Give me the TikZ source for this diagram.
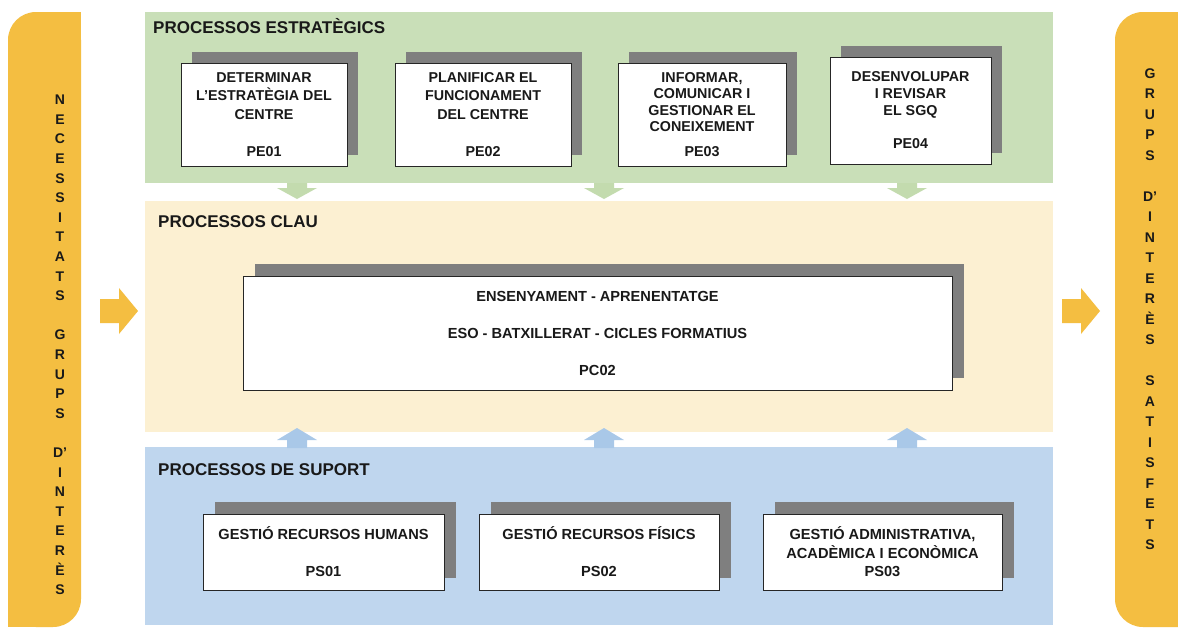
\documentclass[tikz,border=0pt]{standalone}
\usepackage{fontspec}
\setmainfont{Liberation Sans}
\usetikzlibrary{shadows}

\definecolor{panelorange}{HTML}{F4BE41}
\definecolor{stratgreen}{HTML}{C9DFB8}
\definecolor{keybeige}{HTML}{FCF0D2}
\definecolor{supblue}{HTML}{BFD6EE}
\definecolor{greenarrow}{HTML}{C3DBAE}
\definecolor{bluearrow}{HTML}{A9C8E8}
\definecolor{shadowgray}{HTML}{7F7F7F}

\tikzset{
  bandtitle/.style={anchor=west, inner sep=0pt, text=black!90, font=\bfseries\fontsize{17}{20}\selectfont},
  procbox/.style={draw=black!85, line width=0.8pt, fill=white, align=center, inner sep=0pt, text=black!90},
  pebox/.style={procbox, minimum height=103pt, font=\bfseries\fontsize{14.3}{18.5}\selectfont,
    drop shadow={shadow xshift=11pt, shadow yshift=11pt, fill=shadowgray, opacity=1}},
  psbox/.style={procbox, minimum width=241pt, minimum height=76pt, font=\bfseries\fontsize{14.6}{18.5}\selectfont,
    drop shadow={shadow xshift=12pt, shadow yshift=12pt, fill=shadowgray, opacity=1}},
  vletters/.style={align=center, inner sep=0pt, text=black!90}
}

\begin{document}
\begin{tikzpicture}[x=1pt, y=-1pt]
    \clip (0,0) rectangle (1178,630);
    \fill[white] (0,0) rectangle (1178,630);

    \fill[panelorange, rounded corners=28pt] (8,12) rectangle (81,627);
    \fill[panelorange] (45,12) rectangle (81,50);
    \fill[panelorange] (8,590) rectangle (45,627);
    \fill[panelorange, rounded corners=28pt] (1115,12) rectangle (1230,627);

    \fill[stratgreen] (145,12) rectangle (1053,183);
    \fill[keybeige] (145,201) rectangle (1053,432);
    \fill[supblue] (145,447) rectangle (1053,625);

    \foreach \x in {297,604,907}{
        \fill[greenarrow] (\x-10,183) -- (\x+10,183) -- (\x+10,188) -- (\x+20,188) -- (\x,199)
            -- (\x-20,188) -- (\x-10,188) -- cycle;
        \fill[bluearrow] (\x,428) -- (\x+20,440) -- (\x+10,440) -- (\x+10,448) -- (\x-10,448)
            -- (\x-10,440) -- (\x-20,440) -- cycle;
    }
    \foreach \x in {100,1062}
        \fill[panelorange] (\x,299) -- (\x+19,299) -- (\x+19,288) -- (\x+38,311) -- (\x+19,334)
            -- (\x+19,323) -- (\x,323) -- cycle;

    \node[vletters, font=\bfseries\fontsize{14}{19.6}\selectfont] (needs) at (60,345)
        {N\\E\\C\\E\\S\\S\\I\\T\\A\\T\\S\\[19.6pt]G\\R\\U\\P\\S\\[19.6pt]D'\\I\\N\\T\\E\\R\\È\\S};
    \node[vletters, font=\bfseries\fontsize{14}{20.5}\selectfont] (satisfied) at (1150,309)
        {G\\R\\U\\P\\S\\[20.5pt]D'\\I\\N\\T\\E\\R\\È\\S\\[20.5pt]S\\A\\T\\I\\S\\F\\E\\T\\S};

    \node[bandtitle] (titlestrat) at (153,26) {PROCESSOS ESTRATÈGICS};
    \node[bandtitle] (titlekey) at (158,222) {PROCESSOS CLAU};
    \node[bandtitle] (titlesup) at (158,470) {PROCESSOS DE SUPORT};

    \node[pebox, minimum width=166pt] (pe01) at (264,114.5)
        {DETERMINAR\\L'ESTRATÈGIA DEL\\CENTRE\\[18.5pt]PE01};
    \node[pebox, minimum width=176pt] (pe02) at (483,114.5)
        {PLANIFICAR EL\\FUNCIONAMENT\\DEL CENTRE\\[18.5pt]PE02};
    \node[pebox, minimum width=168pt, font=\bfseries\fontsize{14.3}{16.5}\selectfont] (pe03) at (702,114.5)
        {INFORMAR,\\COMUNICAR I\\GESTIONAR EL\\CONEIXEMENT\\[8pt]PE03};
    \node[pebox, minimum width=161pt, minimum height=107pt, font=\bfseries\fontsize{14.3}{17}\selectfont] (pe04) at (910.5,110.5)
        {DESENVOLUPAR\\I REVISAR\\EL SGQ\\[16pt]PE04};

    \node[psbox, minimum width=709pt, minimum height=114pt] (pc02) at (597.5,333)
        {ENSENYAMENT - APRENENTATGE\\[18.5pt]ESO - BATXILLERAT - CICLES FORMATIUS\\[18.5pt]PC02};

    \node[psbox] (ps01) at (323.5,552) {GESTIÓ RECURSOS HUMANS\\[18.5pt]PS01};
    \node[psbox, minimum width=240pt] (ps02) at (599,552) {GESTIÓ RECURSOS FÍSICS\\[18.5pt]PS02};
    \node[psbox, minimum width=239pt] (ps03) at (882.5,552) {GESTIÓ ADMINISTRATIVA,\\ACADÈMICA I ECONÒMICA\\PS03};
\end{tikzpicture}
\end{document}
